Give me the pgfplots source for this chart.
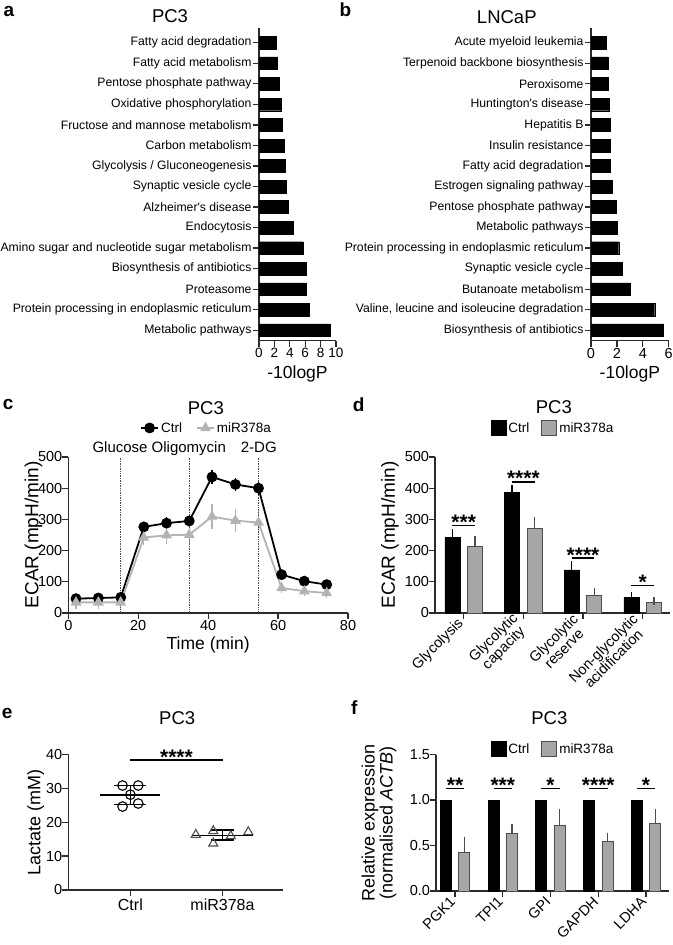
\documentclass[border=0pt]{standalone}
\usepackage{fontspec}
\setmainfont{Liberation Sans}
\usepackage{pgfplots}
\pgfplotsset{compat=1.18}
\newcommand{\fs}[1]{\fontsize{#1}{#1}\selectfont}
\definecolor{axgray}{HTML}{2B2B2B}
\definecolor{barg}{HTML}{A6A6A6}
\definecolor{baredge}{HTML}{4D4D4D}
\definecolor{lineg}{HTML}{B3B3B3}
\pgfplotsset{
 base/.style={scale only axis, enlargelimits=false, axis x line*=bottom, axis y line*=left,
  axis line style={line width=1.3pt, axgray, -}, tick style={line width=1.2pt, axgray},
  tick align=outside, major tick length=6pt,
  /pgf/number format/assume math mode=true, clip=false},
 sqleg/.style={legend image code/.code={\draw[##1] (0pt,-7pt) rectangle (15pt,8pt);}},
}
\begin{document}
\begin{tikzpicture}[x=1pt,y=1pt]
\path[use as bounding box] (0,0) rectangle (672,945);
% panel letters
\node[anchor=base west, font=\fs{19}\bfseries, inner sep=0] at (3.3,928.3) {a};
\node[anchor=base west, font=\fs{19}\bfseries, inner sep=0] at (339.3,928.3) {b};
\node[anchor=base west, font=\fs{19}\bfseries, inner sep=0] at (2.7,535) {c};
\node[anchor=base west, font=\fs{19}\bfseries, inner sep=0] at (352.7,533.3) {d};
\node[anchor=base west, font=\fs{19}\bfseries, inner sep=0] at (1.7,226.7) {e};
\node[anchor=base west, font=\fs{19}\bfseries, inner sep=0] at (351,230) {f};
% titles
\node[anchor=base, font=\fs{18.5}, inner sep=0] at (170,922.3) {PC3};
\node[anchor=base, font=\fs{18.5}, inner sep=0] at (506.8,921.7) {LNCaP};
\node[anchor=base, font=\fs{18.5}, inner sep=0] at (205.8,530) {PC3};
\node[anchor=base, font=\fs{18.5}, inner sep=0] at (553.8,531.7) {PC3};
\node[anchor=base, font=\fs{18.5}, inner sep=0] at (177.2,220) {PC3};
\node[anchor=base, font=\fs{18.5}, inner sep=0] at (549.3,220) {PC3};
% injections labels
\node[anchor=base, font=\fs{15}, inner sep=0] at (159.2,492) {Glucose Oligomycin};
\node[anchor=base, font=\fs{15}, inner sep=0] at (258.8,492) {2-DG};

%%%%% panel a
\begin{axis}[base, at={(259pt,604.3pt)}, anchor=south west, width=77pt, height=312.7pt,
 xbar, bar width=12.7pt, xmin=0, xmax=10, ymin=0.49, ymax=15.72,
 xtick={0,2,...,10}, ytick={1,...,15},
 yticklabels={Metabolic pathways, Protein processing in endoplasmic reticulum, Proteasome,
  Biosynthesis of antibiotics, Amino sugar and nucleotide sugar metabolism, Endocytosis,
  Alzheimer\textquotesingle s disease, Synaptic vesicle cycle, Glycolysis / Gluconeogenesis,
  Carbon metabolism, Fructose and mannose metabolism, Oxidative phosphorylation,
  Pentose phosphate pathway, Fatty acid metabolism, Fatty acid degradation},
 yticklabel style={font=\fs{12.2}, xshift=2pt}, xticklabel style={font=\fs{13.5}, yshift=2pt},
 xlabel={-10logP}, xlabel style={font=\fs{17.5}, at={(axis description cs:0.5,0)}, anchor=base, yshift=-38.3pt},
]
\addplot[fill=black, draw=black, bar shift=0pt] coordinates {
(9.3,1) (6.49,2) (6.19,3) (6.1,4) (5.71,5) (4.42,6) (3.77,7) (3.59,8)
(3.38,9) (3.25,10) (3.03,11) (2.86,12) (2.64,13) (2.42,14) (2.25,15)};
\end{axis}

%%%%% panel b
\begin{axis}[base, at={(591pt,604.3pt)}, anchor=south west, width=77.7pt, height=312.7pt,
 xbar, bar width=12.7pt, xmin=0, xmax=6, ymin=0.49, ymax=15.72,
 xtick={0,2,...,6}, ytick={1,...,15},
 yticklabels={Biosynthesis of antibiotics, {Valine, leucine and isoleucine degradation},
  Butanoate metabolism, Synaptic vesicle cycle, Protein processing in endoplasmic reticulum,
  Metabolic pathways, Pentose phosphate pathway, Estrogen signaling pathway,
  Fatty acid degradation, Insulin resistance, Hepatitis B, Huntington\textquotesingle s disease,
  Peroxisome, Terpenoid backbone biosynthesis, Acute myeloid leukemia},
 yticklabel style={font=\fs{12.2}, xshift=2pt}, xticklabel style={font=\fs{14.5}, yshift=2pt},
 xlabel={-10logP}, xlabel style={font=\fs{17.5}, at={(axis description cs:0.5,0)}, anchor=base, yshift=-38.3pt},
]
\addplot[fill=black, draw=black, bar shift=0pt] coordinates {
(5.59,1) (4.92,2) (3.01,3) (2.39,4) (2.14,5) (2.01,6) (1.93,7) (1.62,8)
(1.49,9) (1.47,10) (1.47,11) (1.39,12) (1.31,13) (1.31,14) (1.18,15)};
\end{axis}

%%%%% panel c
\begin{axis}[base, at={(68.3pt,332pt)}, anchor=south west, width=279.7pt, height=156pt,
 xmin=0, xmax=80, ymin=0, ymax=500, xtick={0,20,...,80}, ytick={0,100,...,500},
 ticklabel style={font=\fs{14.5}}, yticklabel style={xshift=3.5pt}, xticklabel style={yshift=2pt},
 xlabel={Time (min)}, xlabel style={font=\fs{17.5}, at={(axis description cs:0.5,0)}, anchor=base, yshift=-37pt},
 ylabel={ECAR (mpH/min)}, ylabel style={font=\fs{19}, at={(axis description cs:-0.1244,0.5)}, anchor=center},
 legend style={at={(axis description cs:0.2456,1.186)}, anchor=west, draw=none, fill=none,
  legend columns=2, font=\fs{13.5}, /tikz/every even column/.append style={column sep=12pt}},
]
\addplot[black, line width=1.8pt, mark=*, mark size=4.5pt,
 error bars/.cd, y dir=both, y explicit, error bar style={line width=1.2pt},
 error mark options={line width=1.2pt, mark size=3.5pt}] coordinates {
(2.2,46) +- (0,4) (8.6,48) +- (0,4) (15,50) +- (0,5) (21.6,276) +- (0,6)
(28.1,288) +- (0,7) (34.6,295) +- (0,9) (41.1,436) +- (0,12) (47.8,412) +- (0,9)
(54.4,400) +- (0,9) (61,123) +- (0,5) (67.5,102) +- (0,4) (73.9,91) +- (0,4)};
\addlegendentry{Ctrl}
\addplot[lineg, line width=1.8pt, mark=triangle*, mark size=4.5pt,
 error bars/.cd, y dir=both, y explicit, error bar style={line width=1.2pt},
 error mark options={line width=1.2pt, mark size=3.5pt}] coordinates {
(2.2,34) +- (0,10) (8.6,34) +- (0,10) (15,34) +- (0,12) (21.6,242) +- (0,14)
(28.1,249) +- (0,18) (34.6,251) +- (0,18) (41.1,309) +- (0,28) (47.8,296) +- (0,25)
(54.4,290) +- (0,25) (61,80) +- (0,5) (67.5,70) +- (0,5) (73.9,64) +- (0,5)};
\addlegendentry{miR378a}
\addplot[densely dotted, black!70, line width=0.7pt, forget plot] coordinates {(15,0) (15,500)};
\addplot[densely dotted, black!70, line width=0.7pt, forget plot] coordinates {(34.6,0) (34.6,500)};
\addplot[densely dotted, black!70, line width=0.7pt, forget plot] coordinates {(54.4,0) (54.4,500)};
\end{axis}

%%%%% panel d
\begin{axis}[base, at={(435pt,332pt)}, anchor=south west, width=235pt, height=156pt,
 ybar, bar width=15pt, xmin=0.519, xmax=4.457, ymin=0, ymax=500,
 xtick={1,2,3,4}, ytick={0,100,...,500},
 xticklabels={Glycolysis, {Glycolytic\\capacity}, {Glycolytic\\reserve}, {Non-glycolytic\\acidification}},
 xticklabel style={font=\fs{14.5}, rotate=45, anchor=east, align=center},
 yticklabel style={font=\fs{14.5}, xshift=3.5pt},
 ylabel={ECAR (mpH/min)}, ylabel style={font=\fs{19}, at={(axis description cs:-0.1915,0.5)}, anchor=center},
 legend style={at={(axis description cs:0.502,1.186)}, anchor=center, draw=none, fill=none,
  legend columns=2, font=\fs{13.5}, /tikz/every even column/.append style={column sep=10pt}},
]
\addplot[fill=black, draw=black, line width=0.8pt, bar shift=-11.3pt, sqleg,
 error bars/.cd, y dir=plus, y explicit, error bar style={line width=1.2pt, black},
 error mark options={line width=1.2pt, mark size=4pt, black}] coordinates {
(1,243) +- (0,13) (2,385) +- (0,13) (3,138) +- (0,15) (4,49.5) +- (0,4.5)};
\addlegendentry{Ctrl}
\addplot[fill=barg, draw=baredge, line width=0.8pt, bar shift=11.3pt, sqleg,
 error bars/.cd, y dir=plus, y explicit, error bar style={line width=1.2pt, baredge},
 error mark options={line width=1.2pt, mark size=4pt, baredge}] coordinates {
(1,213) +- (0,20) (2,270) +- (0,26) (3,55) +- (0,11) (4,34) +- (0,5)};
\addlegendentry{miR378a}
\draw[line width=1.2pt] ([xshift=-11.3pt]axis cs:1,281) -- ([xshift=11.3pt]axis cs:1,281);
\draw[line width=1.2pt] ([xshift=-11.3pt]axis cs:2,420) -- ([xshift=11.3pt]axis cs:2,420);
\draw[line width=1.2pt] ([xshift=-11.3pt]axis cs:3,176) -- ([xshift=11.3pt]axis cs:3,176);
\draw[line width=1.2pt] ([xshift=-11.3pt]axis cs:4,89) -- ([xshift=11.3pt]axis cs:4,89);
\node[anchor=base, font=\fs{21}\bfseries, inner sep=0, yshift=-4pt] at (axis cs:1,281) {***};
\node[anchor=base, font=\fs{21}\bfseries, inner sep=0, yshift=-4pt] at (axis cs:2,420) {****};
\node[anchor=base, font=\fs{21}\bfseries, inner sep=0, yshift=-4pt] at (axis cs:3,176) {****};
\node[anchor=base, font=\fs{21}\bfseries, inner sep=0, yshift=-4pt] at (axis cs:4,89) {*};
\end{axis}

%%%%% panel e
\begin{axis}[base, at={(68.3pt,55pt)}, anchor=south west, width=215pt, height=135.7pt,
 xmin=0.326, xmax=2.66, ymin=0, ymax=40, xtick={1,2}, xticklabels={Ctrl, miR378a},
 ytick={0,10,...,40}, xticklabel style={font=\fs{16}, yshift=1pt}, yticklabel style={font=\fs{14.5}, xshift=3.5pt},
 ylabel={Lactate (mM)}, ylabel style={font=\fs{18}, at={(axis description cs:-0.152,0.5)}, anchor=center},
]
\addplot[only marks, mark=o, mark size=4.8pt, black, mark options={line width=1.1pt}] coordinates {
(0.915,30.8) (1.085,30.8) (1.0,28.1) (0.915,24.6) (1.085,25.5)};
\addplot[only marks, mark=triangle, mark size=5.2pt, baredge, mark options={line width=1.1pt}] coordinates {
(1.71,16.3) (1.9,17.4) (1.9,13.75) (2.09,15.9) (2.28,17.1)};
\addplot[black, line width=1.3pt] coordinates {(0.674,28) (1.326,28)};
\addplot[black, line width=1.3pt] coordinates {(0.826,30.8) (1.174,30.8)};
\addplot[black, line width=1.3pt] coordinates {(0.826,25.2) (1.174,25.2)};
\addplot[black, line width=1.3pt] coordinates {(1,25.2) (1,30.8)};
\addplot[black, line width=1.3pt] coordinates {(1.674,16.1) (2.326,16.1)};
\addplot[black, line width=1.3pt] coordinates {(1.87,17.7) (2.13,17.7)};
\addplot[black, line width=1.3pt] coordinates {(1.87,14.7) (2.13,14.7)};
\addplot[black, line width=1.3pt] coordinates {(2,14.7) (2,17.7)};
\draw[line width=1.3pt] (axis cs:1,38.3) -- (axis cs:2,38.3);
\node[anchor=base, font=\fs{21}\bfseries, inner sep=0, yshift=-4pt] at (axis cs:1.5,38.3) {****};
\end{axis}

%%%%% panel f
\begin{axis}[base, at={(436pt,54pt)}, anchor=south west, width=233pt, height=136.5pt,
 ybar, bar width=11pt, xmin=0.602, xmax=5.48, ymin=0, ymax=1.5,
 xtick={1,...,5}, ytick={0,0.5,1,1.5},
 xticklabels={PGK1,TPI1,GPI,GAPDH,LDHA},
 xticklabel style={font=\fs{14.5}, rotate=45, anchor=east},
 yticklabel style={font=\fs{14.5}, xshift=3.5pt, /pgf/number format/.cd, fixed, fixed zerofill, precision=1},
 ylabel={Relative expression\\(normalised \textit{ACTB})},
 ylabel style={font=\fs{18}, align=center, at={(axis description cs:-0.245,0.5)}, anchor=center},
 legend style={at={(axis description cs:0.502,1.04)}, anchor=center, draw=none, fill=none,
  legend columns=2, font=\fs{13.5}, /tikz/every even column/.append style={column sep=10pt}},
]
\addplot[fill=black, draw=black, line width=0.8pt, bar shift=-9.2pt, sqleg] coordinates {
(1,1) (2,1) (3,1) (4,1) (5,1)};
\addlegendentry{Ctrl}
\addplot[fill=barg, draw=baredge, line width=0.8pt, bar shift=9.2pt, sqleg,
 error bars/.cd, y dir=plus, y explicit, error bar style={line width=1.2pt, baredge},
 error mark options={line width=1.2pt, mark size=3.5pt, baredge}] coordinates {
(1,0.421) +- (0,0.139) (2,0.634) +- (0,0.066) (3,0.718) +- (0,0.146) (4,0.549) +- (0,0.048) (5,0.747) +- (0,0.117)};
\addlegendentry{miR378a}
\foreach \g/\s in {1/**,2/***,3/*,4/****,5/*}{
 \edef\tmp{\noexpand\draw[line width=1.2pt] ([xshift=-9.2pt]axis cs:\g,1.125) -- ([xshift=9.2pt]axis cs:\g,1.125);
 \noexpand\node[anchor=base, font=\noexpand\fs{21}\noexpand\bfseries, inner sep=0, yshift=-4pt] at (axis cs:\g,1.125) {\s};}
 \tmp
}
\end{axis}
\end{tikzpicture}
\end{document}
